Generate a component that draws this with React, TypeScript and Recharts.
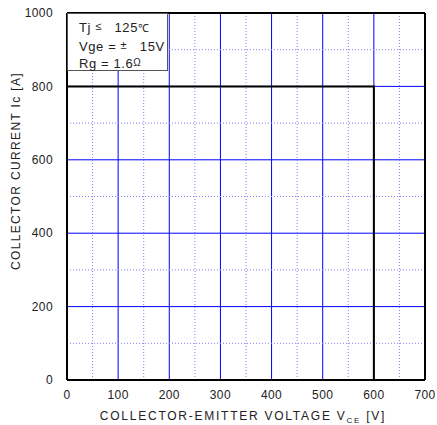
import { CartesianGrid, Line, LineChart, ReferenceLine, XAxis, YAxis } from "recharts"

const voltageTicks = [0, 100, 200, 300, 400, 500, 600, 700]
const currentTicks = [0, 200, 400, 600, 800, 1000]
const minorVoltage = [50, 150, 250, 350, 450, 550, 650]
const minorCurrent = [100, 300, 500, 700, 900]

const soaVoltage = [0, 600, 600]
const soaCurrent = [800, 800, 0]

const data = soaVoltage.map((v, i) => ({ vce: v, ic: soaCurrent[i] }))

const font = "'Liberation Sans', Arial, sans-serif"

export default function App() {
  return (
    <div style={{ position: "absolute", left: 0, top: 0, width: 437, height: 425, background: "#fff", fontFamily: font }}>
      <LineChart width={437} height={425} data={data} margin={{ top: 13, right: 12, left: 0, bottom: 0 }}>
        <CartesianGrid stroke="#0000ff" strokeWidth={1} />
        {minorVoltage.map((v) => (
          <ReferenceLine key={"mv" + v} x={v} stroke="#7f7fff" strokeDasharray="1 2" />
        ))}
        {minorCurrent.map((c) => (
          <ReferenceLine key={"mc" + c} y={c} stroke="#7f7fff" strokeDasharray="1 2" />
        ))}
        <ReferenceLine y={1000} stroke="#000" strokeWidth={2} />
        <ReferenceLine x={700} stroke="#000" strokeWidth={2} />
        <XAxis
          dataKey="vce"
          type="number"
          domain={[0, 700]}
          ticks={voltageTicks}
          height={45}
          tickLine={false}
          axisLine={{ stroke: "#000", strokeWidth: 2 }}
          tick={{ fill: "#222", fontSize: 12, fontFamily: font, letterSpacing: 0.4 }}
          tickMargin={4}
        />
        <YAxis
          dataKey="ic"
          type="number"
          domain={[0, 1000]}
          ticks={currentTicks}
          width={67}
          tickLine={false}
          axisLine={{ stroke: "#000", strokeWidth: 2 }}
          tick={{ fill: "#222", fontSize: 12, fontFamily: font, letterSpacing: 0.4 }}
          tickMargin={8}
        />
        <Line
          dataKey="ic"
          type="linear"
          stroke="#000"
          strokeWidth={2}
          dot={false}
          isAnimationActive={false}
        />
      </LineChart>
      <svg width={437} height={425} style={{ position: "absolute", left: 0, top: 0, pointerEvents: "none" }}>
        <text
          x={243}
          y={420}
          textAnchor="middle"
          fontSize={12}
          fontFamily={font}
          letterSpacing={1.75}
          fill="#222"
        >
          COLLECTOR-EMITTER VOLTAGE V<tspan fontSize={8} dy={3}>CE</tspan>
          <tspan dy={-3}> [V]</tspan>
        </text>
        <text
          x={20}
          y={171}
          transform="rotate(-90 20 171)"
          textAnchor="middle"
          fontSize={12}
          fontFamily={font}
          letterSpacing={1.35}
          fill="#222"
        >
          COLLECTOR CURRENT  Ic [A]
        </text>
      </svg>
      <div
        style={{
          position: "absolute",
          left: 67,
          top: 13,
          width: 101,
          height: 58,
          background: "#fff",
          border: "1px solid #555",
          boxSizing: "border-box",
          fontSize: 13,
          lineHeight: "16.5px",
          padding: "4px 0 0 11px",
          color: "#222",
          letterSpacing: 0.6,
          whiteSpace: "nowrap",
        }}
      >
        <div>
          Tj <span style={{ fontSize: 11, verticalAlign: 2 }}>≤</span>&nbsp;&nbsp; 125<span style={{ fontSize: 11 }}>℃</span>
        </div>
        <div>
          Vge = <span style={{ fontSize: 11, verticalAlign: 2 }}>±</span>&nbsp;&nbsp; 15V
        </div>
        <div>
          Rg = 1.6<span style={{ fontSize: 10, verticalAlign: 2 }}>Ω</span>
        </div>
      </div>
    </div>
  )
}
